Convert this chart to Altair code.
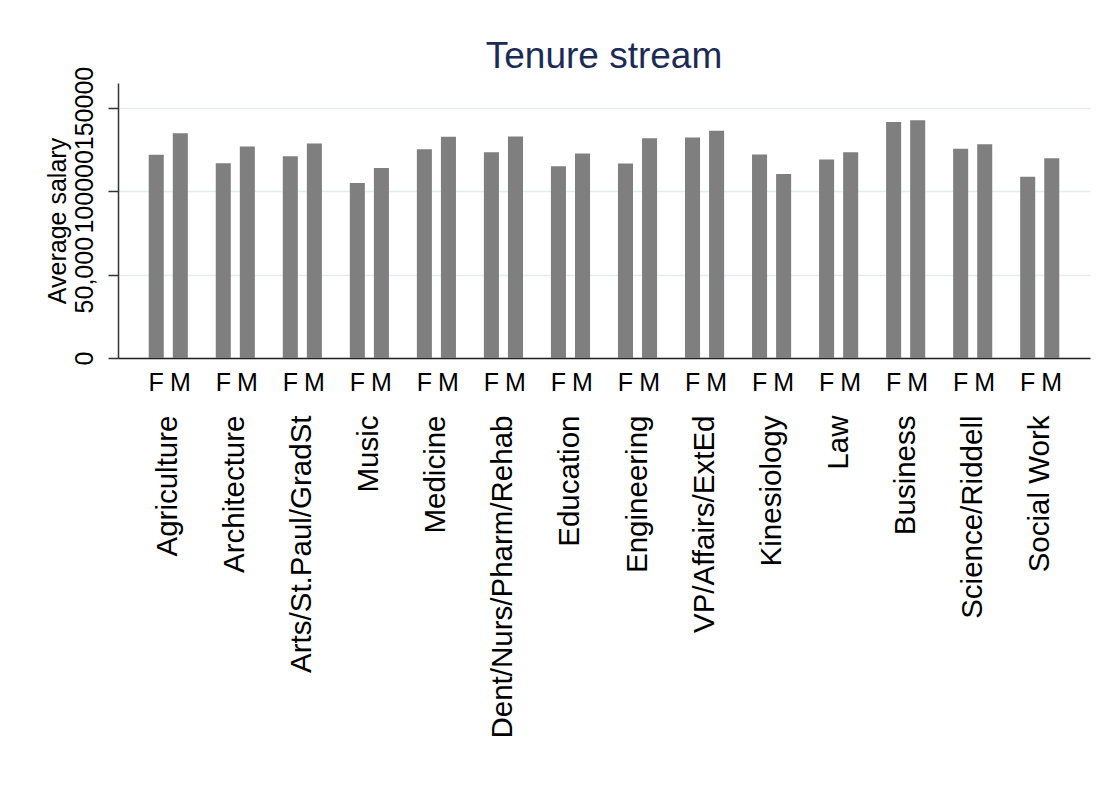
import altair as alt
import pandas as pd

chart_title = "Tenure stream"
y_title = "Average salary"
faculties = ["Agriculture", "Architecture", "Arts/St.Paul/GradSt", "Music", "Medicine",
             "Dent/Nurs/Pharm/Rehab", "Education", "Engineering", "VP/Affairs/ExtEd",
             "Kinesiology", "Law", "Business", "Science/Riddell", "Social Work"]
genders = ["F", "M"]
female = [121900, 116900, 121100, 105000, 125300, 123500, 115100,
          116700, 132300, 122100, 119100, 141600, 125500, 108800]
male = [134800, 126900, 128700, 114000, 132700, 132900, 122700,
        131900, 136300, 110400, 123500, 142600, 128300, 119900]
y_tick_values = [0, 50000, 100000, 150000]
y_tick_labels = ["0", "50,000", "100000", "150000"]

rows = []
for f, fv, mv in zip(faculties, female, male):
    rows.append({"faculty": f, "gender": "F", "salary": fv})
    rows.append({"faculty": f, "gender": "M", "salary": mv})
df = pd.DataFrame(rows)

FONT = "Liberation Sans"
W, H = 972, 275

label_expr = ("[" + ",".join("'" + s + "'" for s in y_tick_labels) + "][indexof(["
              + ",".join(str(v) for v in y_tick_values) + "], datum.value)]")

x_enc = alt.X("faculty:N", sort=faculties,
              scale=alt.Scale(paddingInner=0, paddingOuter=0.25),
              axis=alt.Axis(title=None, labelAngle=270, labelAlign="right",
                            labelBaseline="middle", labelPadding=57, ticks=False,
                            labelFontSize=29.5, labelLimit=600, labelColor="#000000",
                            labelFont=FONT, domainColor="#222222", domainWidth=1.5))
xo_enc = alt.XOffset("gender:N", sort=genders,
                     scale=alt.Scale(paddingInner=0.375, paddingOuter=0.58))

base = alt.Chart(df)

bars = base.mark_bar(color="#7f7f7f").encode(
    x=x_enc,
    xOffset=xo_enc,
    y=alt.Y("salary:Q", scale=alt.Scale(domain=[0, 165000], nice=False, zero=True),
            axis=alt.Axis(values=y_tick_values, labelExpr=label_expr,
                          labelAngle=270, labelAlign="center", labelBaseline="alphabetic",
                          labelPadding=16, tickSize=10, labelFontSize=25,
                          labelOverlap=False, labelFlush=False, labelBound=False,
                          labelColor="#000000", labelFont=FONT,
                          title=y_title, titleAngle=270, titleX=-53, titleY=H / 2,
                          titleAlign="center", titleBaseline="alphabetic",
                          titleFontSize=25, titleFontWeight="normal", titleFont=FONT,
                          titleColor="#000000",
                          grid=True, gridColor="#e4eded", gridWidth=1.5,
                          domainColor="#333333", domainWidth=1.5,
                          tickColor="#333333", tickWidth=1.5)),
)

fm = base.mark_text(fontSize=25, baseline="alphabetic", align="center",
                    font=FONT, color="#000000").encode(
    x=x_enc,
    xOffset=xo_enc,
    y=alt.value(H + 33),
    text="gender:N",
)

ttl = alt.Chart(pd.DataFrame({"t": [chart_title]})).mark_text(
    fontSize=37, baseline="alphabetic", align="center", font=FONT, color="#1c2b55"
).encode(
    x=alt.value(W / 2),
    y=alt.value(-15),
    text="t:N",
)

chart = alt.layer(bars, fm, ttl).properties(
    width=W, height=H,
    autosize=alt.AutoSizeParams(type="none"),
    padding={"left": 110, "top": 75, "right": 4, "bottom": 430},
    background="white",
).configure(font=FONT, view=alt.ViewConfig(stroke=None))

chart.save("out.html", embed_options={"renderer": "svg", "actions": False})
